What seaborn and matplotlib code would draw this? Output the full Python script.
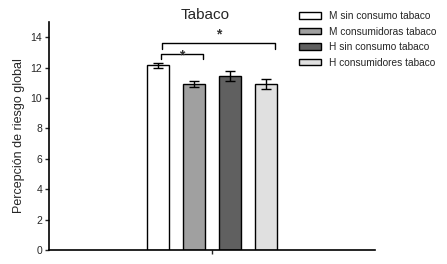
import matplotlib
matplotlib.use("Agg")
import matplotlib.pyplot as plt
import seaborn as sns
import pandas as pd
import numpy as np

groups = ["M sin consumo tabaco", "M consumidoras tabaco", "H sin consumo tabaco", "H consumidores tabaco"]
means = [12.15, 10.92, 11.45, 10.92]
errors = [0.15, 0.2, 0.33, 0.33]
colors = ["#ffffff", "#a0a0a0", "#606060", "#e0e0e0"]
category = ["Tabaco"] * 4

sns.set_style("white")
plt.rcParams['font.family'] = ['Liberation Sans', 'DejaVu Sans']

df = pd.DataFrame({"cat": category, "grupo": groups, "valor": means})

fig = plt.figure(figsize=(4.47, 2.64), dpi=100)
ax = fig.add_axes([0.1096, 0.053, 0.7294, 0.8637])

sns.barplot(data=df, x="cat", y="valor", hue="grupo", hue_order=groups,
            palette=colors, errorbar=None, gap=0.39, width=0.8,
            edgecolor="black", linewidth=1.0, ax=ax, legend=False)

bars = [p for p in ax.patches if p.get_height() > 0][:4]
xs = [b.get_x() + b.get_width() / 2 for b in bars]
ax.errorbar(xs, means, yerr=errors, fmt="none", ecolor="black",
            elinewidth=1.0, capsize=3.5, capthick=1.0)

ax.set_xlim(-0.906, 0.906)
ax.set_ylim(0, 15)
ax.set_yticks(range(0, 15, 2))
ax.set_xticks([0])
ax.set_xticklabels([""])
ax.set_xlabel("")
ax.set_ylabel("Percepción de riesgo global", fontsize=9, labelpad=4)
ax.tick_params(axis="y", direction="out", length=3, width=1, labelsize=7.5, pad=2, left=True)
ax.tick_params(axis="x", direction="out", length=3, width=1, bottom=True)
for s in ["top", "right"]:
    ax.spines[s].set_visible(False)
for s in ["left", "bottom"]:
    ax.spines[s].set_color("black")
    ax.spines[s].set_linewidth(1.2)

# significance brackets
def bracket(x1, x2, y, h, star_y):
    ax.plot([x1, x1, x2, x2], [y - h, y, y, y - h], color="black", lw=1.0)
    ax.text((x1 + x2) / 2, star_y, "*", ha="center", va="center", fontsize=10, fontweight="bold", color="#333333")

bracket(xs[0] + 0.015, xs[1] + 0.05, 12.9, 0.35, 12.8)
bracket(xs[0] + 0.02, xs[3] + 0.05, 13.6, 0.35, 14.2)

ax.set_title("Tabaco", fontsize=11, pad=2, x=0.48)

handles = [plt.Rectangle((0, 0), 1, 1, facecolor=c, edgecolor="black", linewidth=1.0) for c in colors]
fig.legend(handles, groups, loc="upper left", bbox_to_anchor=(0.652, 0.985),
           frameon=False, fontsize=7.3, handlelength=2.2, handleheight=0.6,
           labelspacing=0.55, handletextpad=0.8, borderpad=0.2)

fig.savefig("out.png", dpi=100)
